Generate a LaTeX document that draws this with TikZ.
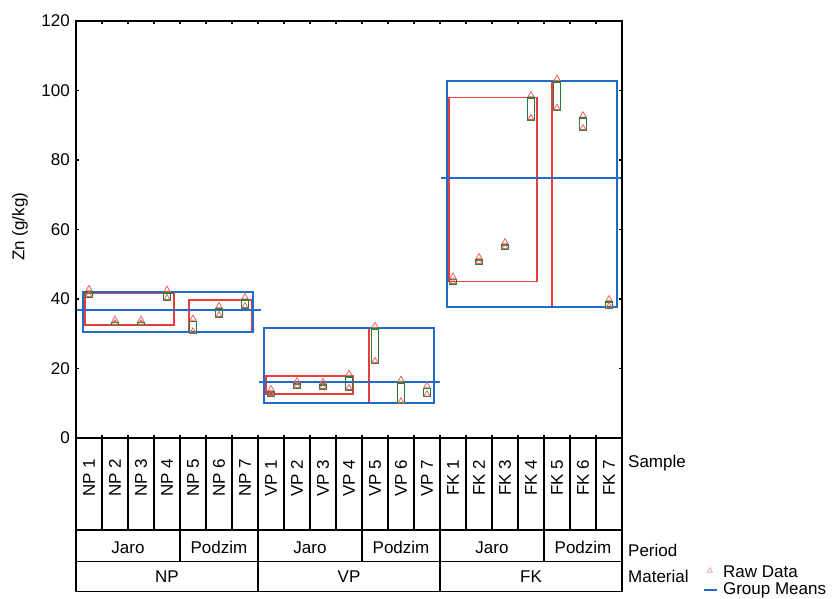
\documentclass[tikz,border=0pt]{standalone}
\usepackage{fontspec}
\setmainfont{Liberation Sans}
\usepackage{tikz}
\usetikzlibrary{positioning,shapes.geometric}
\definecolor{meanblue}{RGB}{35,105,200}
\definecolor{perred}{RGB}{235,60,60}
\definecolor{smpgreen}{RGB}{40,125,55}
\tikzset{
  lbl/.style = {inner sep=0pt, font=\fontsize{17}{19}\selectfont},
  smp_lbl/.style = {lbl, rotate=90},% sample labels
  frame/.style = {draw=black, line width=1.3pt},% axes, table
  grp_box/.style = {draw=meanblue, line width=1.8pt},% material
  grp_mean/.style = {draw=meanblue, line width=1.8pt},% group means
  per_box/.style = {draw=perred, line width=1.6pt},% period
  smp_box/.style = {draw=smpgreen, line width=1.6pt},% sample
  raw_pt/.style = {regular polygon, regular polygon sides=3, draw=perred!80,
    inner sep=0pt, minimum size=7pt, line width=0.8pt}% raw data
}
\begin{document}
\begin{tikzpicture}[x=26pt, y=3.475pt]
\useasboundingbox (-76pt,-160pt) rectangle (756pt,438pt);

% period boxes
\draw[per_box] (0.35,32.5) rectangle (3.77,41.7);
\draw[per_box] (4.35,30.5) rectangle (6.77,39.7);
\draw[per_box] (7.31,12.6) rectangle (10.65,17.8);
\draw[per_box] (11.27,10.0) rectangle (13.77,31.6);
\draw[per_box] (14.35,45.0) rectangle (17.72,98.0);
\draw[per_box] (18.3,37.8) rectangle (20.8,102.7);
% material boxes and means
\draw[grp_box] (0.26,30.5) rectangle (6.8,42.0);
\draw[grp_box] (7.23,10.0) rectangle (13.77,31.6);
\draw[grp_box] (14.27,37.8) rectangle (20.8,102.7);
\draw[grp_mean] (0.05,36.8) -- (7.1,36.8);
\draw[grp_mean] (7.05,16.2) -- (14,16.2);
\draw[grp_mean] (14.05,74.9) -- (21,74.9);

% samples
\foreach \c/\lo/\hi in {1/40.6/42.0, 2/32.4/33.2, 3/32.4/33.2, 4/39.7/41.8,
    5/30.1/33.5, 6/34.8/37.1, 7/37.4/39.7, 8/12.1/13.2, 9/14.4/15.5,
    10/14.1/15.3, 11/13.8/17.6, 12/21.6/31.4, 13/10.0/15.9, 14/12.0/14.2,
    15/44.3/45.6, 16/50.1/51.2, 17/54.4/55.5, 18/91.5/97.8, 19/94.4/102.5,
    20/88.6/92.0, 21/37.4/39.1}{
  \draw[smp_box] ({\c-0.63},\lo) rectangle ({\c-0.37},\hi);
  \node[raw_pt] (r\c) at ({\c-0.5},{\hi+0.9}) {};
  \node[raw_pt] (q\c) at ({\c-0.5},{\lo+0.6}) {};
}

% axes
\draw[frame] (0,0) rectangle (21,120);
\foreach \v in {0,20,...,120}{
  \draw[frame] (0,\v) -- (0.12,\v);
  \node[lbl, anchor=east] (y\v) at (-0.23,\v) {\v};
}
\foreach \v in {20,40,...,100}
  \draw[frame] (21,\v) -- (20.88,\v);
\foreach \i in {1,...,20}
  \draw[frame] (\i,120) -- (\i,119);
\node[lbl, rotate=90] (ylab) at (-2.15,60.8) {Zn (g/kg)};

% table
\draw[frame] (0,0) rectangle (21,-44.2);
\draw[frame] (0,-26.5) -- (21,-26.5);
\draw[frame] (0,-35.5) -- (21,-35.5);
\foreach \i in {1,...,6,8,9,...,13,15,16,...,20}
  \draw[frame] (\i,1) -- (\i,-26.5);
\foreach \i in {7,14}
  \draw[frame] (\i,1) -- (\i,-44.2);
\foreach \i in {4,11,18}
  \draw[frame] (\i,-26.5) -- (\i,-35.5);
\foreach \m [count=\k from 0] in {NP,VP,FK}{
  \foreach \j in {1,...,7}{
    \pgfmathtruncatemacro\c{7*\k+\j}
    \node[smp_lbl] (s\c) at ({\c-0.5},-11.5) {\m\ \j};
  }
  \node[lbl, anchor=base] (jaro\m) at ({7*\k+2},-33.1) {Jaro};
  \node[lbl, anchor=base] (podzim\m) at ({7*\k+5.5},-33.1) {Podzim};
  \node[lbl, anchor=base] (mat\m) at ({7*\k+3.5},-41.7) {\m};
}
\node[lbl, anchor=base west] (sample) at (21.23,-8.6) {Sample};
\node[lbl, anchor=base west] (period) at (21.23,-34.1) {Period};
\node[lbl, anchor=base west] (material) at (21.23,-41.5) {Material};

% legend
\node[raw_pt, minimum size=6pt, draw=perred!50] (legraw) at (24.38,-38.2) {};
\node[lbl, anchor=base west] (rawtxt) at (24.88,-40.0) {Raw Data};
\coordinate (legm1) at (24.15,-43.7);
\coordinate (legm2) at (24.65,-43.7);
\draw[grp_mean] (legm1) -- (legm2);
\node[lbl, anchor=base west] (meantxt) at (24.88,-45.1) {Group Means};
\end{tikzpicture}
\end{document}
